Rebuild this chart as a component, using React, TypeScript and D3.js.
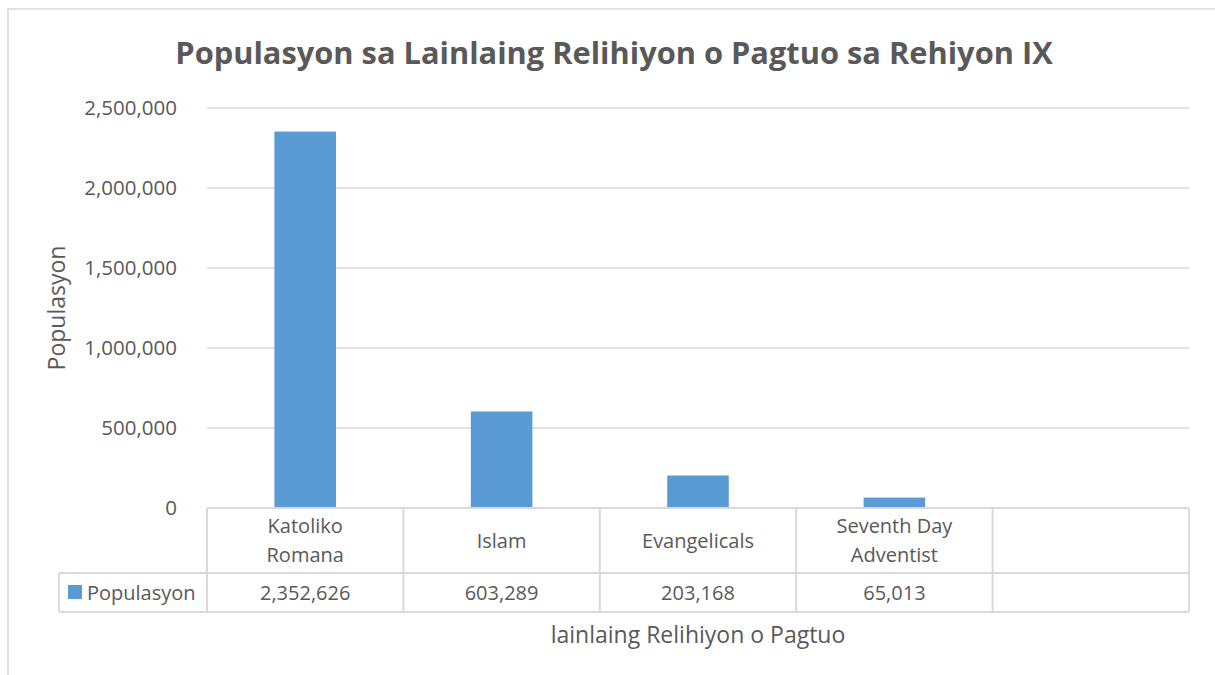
import * as d3 from 'd3';

const categories = ['Katoliko\nRomana', 'Islam', 'Evangelicals', 'Seventh Day\nAdventist', ''];
const seriesName = 'Populasyon';
const values = [2352626, 603289, 203168, 65013];
const yTicks = [0, 500000, 1000000, 1500000, 2000000, 2500000];

const title = 'Populasyon sa Lainlaing Relihiyon o Pagtuo sa Rehiyon IX';
const yTitle = 'Populasyon';
const xTitle = 'lainlaing Relihiyon o Pagtuo';

const W = 1215;
const H = 675;
const plot = { left: 207, right: 1189, top: 108, bottom: 508 };
const row1Bottom = 573;
const row2Bottom = 612;
const legendLeft = 59;

const barColor = '#5B9BD5';
const textColor = '#595959';
const lineColor = '#D9D9D9';
const font = '"Open Sans", sans-serif';

export default function App() {
  const x = d3.scaleBand<string>().domain(categories).range([plot.left, plot.right]);
  const y = d3.scaleLinear().domain([0, 2500000]).range([plot.bottom, plot.top]);
  const fmt = d3.format(',');
  const bw = x.bandwidth();
  const barW = bw / 3.19;

  return (
    <svg
      width={W}
      height={H}
      style={{ position: 'absolute', left: 0, top: 0, background: '#fff' }}
      fontFamily={font}
    >
      <rect x={8} y={9} width={W + 20} height={H + 20} fill="#fff" stroke={lineColor} strokeWidth={1.5} />
      <text x={614} y={64} textAnchor="middle" fontSize={30.8} fontWeight="bold" fill={textColor}>
        {title}
      </text>

      {yTicks.map((t) => (
        <g key={t}>
          {t > 0 && (
            <line x1={plot.left} x2={plot.right} y1={y(t)} y2={y(t)} stroke={lineColor} strokeWidth={1.5} />
          )}
          <text x={177} y={y(t)} dy="0.35em" textAnchor="end" fontSize={20.5} fill={textColor}>
            {fmt(t)}
          </text>
        </g>
      ))}

      {values.map((v, i) => (
        <rect
          key={i}
          x={(x(categories[i]) ?? 0) + (bw - barW) / 2}
          y={y(v)}
          width={barW}
          height={y(0) - y(v)}
          fill={barColor}
        />
      ))}

      {/* data table */}
      <line x1={plot.left} x2={plot.right} y1={plot.bottom} y2={plot.bottom} stroke={lineColor} strokeWidth={2} />
      <line x1={legendLeft} x2={plot.right} y1={row1Bottom} y2={row1Bottom} stroke={lineColor} strokeWidth={2} />
      <line x1={legendLeft} x2={plot.right} y1={row2Bottom} y2={row2Bottom} stroke={lineColor} strokeWidth={2} />
      <line x1={legendLeft} x2={legendLeft} y1={row1Bottom} y2={row2Bottom} stroke={lineColor} strokeWidth={2} />
      {categories.map((c) => (
        <line
          key={'v' + c}
          x1={x(c)}
          x2={x(c)}
          y1={plot.bottom}
          y2={row2Bottom}
          stroke={lineColor}
          strokeWidth={2}
        />
      ))}
      <line x1={plot.right} x2={plot.right} y1={plot.bottom} y2={row2Bottom} stroke={lineColor} strokeWidth={2} />

      {categories.map((c) => {
        const lines = c ? c.split('\n') : [];
        const cx = (x(c) ?? 0) + bw / 2;
        const mid = (plot.bottom + row1Bottom) / 2;
        const lh = 29;
        return (
          <text key={'l' + c} x={cx} textAnchor="middle" fontSize={20} fill={textColor}>
            {lines.map((ln, j) => (
              <tspan key={j} x={cx} y={mid + (j - (lines.length - 1) / 2) * lh} dy="0.35em">
                {ln}
              </tspan>
            ))}
          </text>
        );
      })}

      {values.map((v, i) => (
        <text
          key={'d' + i}
          x={(x(categories[i]) ?? 0) + bw / 2}
          y={(row1Bottom + row2Bottom) / 2}
          dy="0.35em"
          textAnchor="middle"
          fontSize={20}
          fill={textColor}
        >
          {fmt(v)}
        </text>
      ))}

      <rect x={68} y={585} width={14} height={14} fill={barColor} />
      <text x={87} y={(row1Bottom + row2Bottom) / 2} dy="0.35em" fontSize={20} fill={textColor}>
        {seriesName}
      </text>

      <text
        transform={`translate(65,${(plot.top + plot.bottom) / 2}) rotate(-90)`}
        textAnchor="middle"
        fontSize={23}
        fill={textColor}
      >
        {yTitle}
      </text>
      <text x={(plot.left + plot.right) / 2} y={643} textAnchor="middle" fontSize={23} fill={textColor}>
        {xTitle}
      </text>
    </svg>
  );
}
